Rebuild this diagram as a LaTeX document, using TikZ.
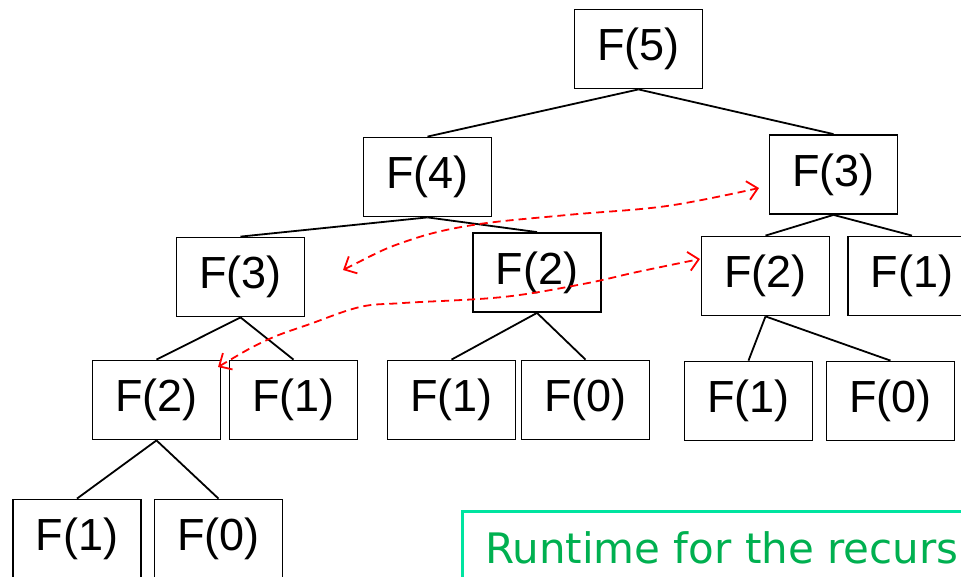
\documentclass[tikz,border=0pt]{standalone}
\usepackage{fontspec}
\setmainfont{Liberation Sans}
\newfontfamily\notefont{DejaVu Sans}
\usetikzlibrary{arrows.meta}
\definecolor{notegreen}{RGB}{0,176,80}
\definecolor{noteborder}{RGB}{0,228,160}
\begin{document}
\begin{tikzpicture}[x=1pt,y=-1pt,
  fbox/.style={draw=black,line width=1.8pt,rectangle,minimum width=128pt,minimum height=79pt,inner sep=0pt,font=\fontsize{45}{54}\selectfont},
  edge/.style={line width=1.8pt},
  memo/.style={draw=red,line width=1.8pt,dash pattern=on 8pt off 5pt,{Straight Barb[length=10pt,width=19pt]}-{Straight Barb[length=10pt,width=19pt]}}]
\useasboundingbox (0,0) rectangle (961,576);
\clip (0,0) rectangle (961,576);
\node[fbox] (f5) at (638.5,49) {F(5)};
\node[fbox] (f4) at (427.5,177) {F(4)};
\node[fbox] (f3r) at (833.5,174.5) {F(3)};
\node[fbox] (f3l) at (240.5,277) {F(3)};
\node[fbox] (f2m) at (537,272.5) {F(2)};
\node[fbox] (f2r) at (765.5,276) {F(2)};
\node[fbox] (f1r) at (912,276) {F(1)};
\node[fbox] (f2l) at (156.5,400) {F(2)};
\node[fbox] (f1a) at (293.5,400) {F(1)};
\node[fbox] (f1b) at (451.5,400) {F(1)};
\node[fbox] (f0a) at (585.5,400) {F(0)};
\node[fbox] (f1c) at (748.5,401) {F(1)};
\node[fbox] (f0c) at (890.5,401) {F(0)};
\node[fbox] (f1d) at (77,539) {F(1)};
\node[fbox] (f0d) at (218.5,539) {F(0)};
\draw[edge] (f5.south) -- (f4.north);
\draw[edge] (f5.south) -- (f3r.north);
\draw[edge] (f4.south) -- (f3l.north);
\draw[edge] (f4.south) -- (f2m.north);
\draw[edge] (f3r.south) -- (f2r.north);
\draw[edge] (f3r.south) -- (f1r.north);
\draw[edge] (f3l.south) -- (f2l.north);
\draw[edge] (f3l.south) -- (f1a.north);
\draw[edge] (f2m.south) -- (f1b.north);
\draw[edge] (f2m.south) -- (f0a.north);
\draw[edge] (f2r.south) -- (f1c.north);
\draw[edge] (f2r.south) -- (f0c.north);
\draw[edge] (f2l.south) -- (f1d.north);
\draw[edge] (f2l.south) -- (f0d.north);
\coordinate (m1s) at (343,270);
\coordinate (m1e) at (759,188);
\coordinate (m2s) at (218,367);
\coordinate (m2e) at (700,259);
\draw[memo] plot[smooth,tension=0.6] coordinates {(m1s) (407,241) (473,225) (567,215) (667,206) (m1e)};
\draw[memo] plot[smooth,tension=0.6] coordinates {(m2s) (267,340) (310,324) (360,307) (403,303) (503,297) (583,284) (637,272) (m2e)};
\node[draw=noteborder,line width=3pt,minimum width=520pt,minimum height=90pt,anchor=north west] (note) at (461,510) {};
\node[anchor=base west,inner sep=0pt,text=notegreen,font=\notefont\fontsize{42}{50}\selectfont] (notetext) at (485,563) {Runtime for the recurs};
\end{tikzpicture}
\end{document}
